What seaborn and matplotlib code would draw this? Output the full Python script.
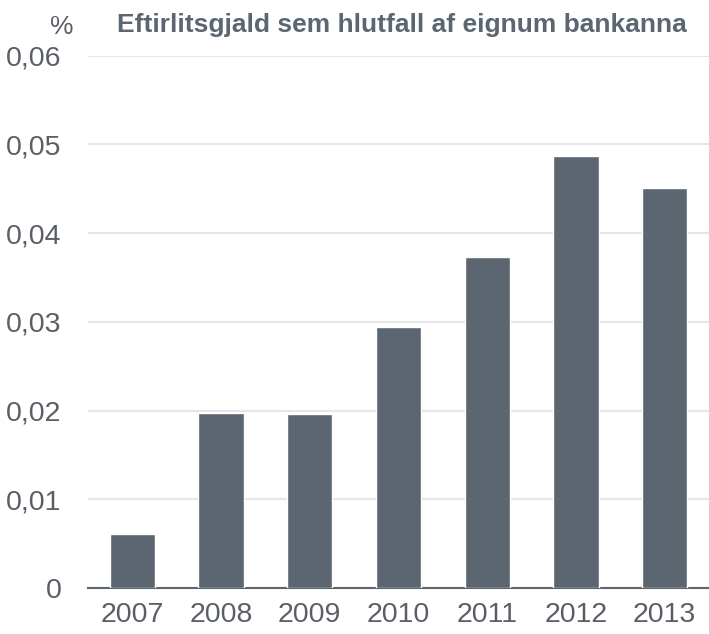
import matplotlib
matplotlib.use("Agg")
import matplotlib.pyplot as plt
import pandas as pd
import seaborn as sns
from matplotlib.ticker import FuncFormatter

# Data
years = ['2007', '2008', '2009', '2010', '2011', '2012', '2013']
values = [0.0061, 0.0197, 0.0196, 0.0294, 0.0373, 0.0487, 0.0451]
df = pd.DataFrame({'year': years, 'value': values})

sns.set_style("white")
plt.rcParams['font.family'] = ['Liberation Sans', 'DejaVu Sans']

bar_color = '#5b6670'
text_color = '#5a5f66'

fig = plt.figure(figsize=(7.09, 6.34), dpi=100)
ax = fig.add_axes([0.124, 0.0726, 0.876, 0.8394])

sns.barplot(data=df, x='year', y='value', color=bar_color, saturation=1,
            width=0.51, ax=ax, zorder=3)

ax.set_ylim(0, 0.06)
ax.set_yticks([0, 0.01, 0.02, 0.03, 0.04, 0.05, 0.06])
ax.yaxis.set_major_formatter(FuncFormatter(
    lambda v, p: '0' if v == 0 else f'{v:.2f}'.replace('.', ',')))
ax.grid(axis='y', color='#e6e6e6', linewidth=1.5, zorder=0)
ax.set_axisbelow(True)

for s in ['top', 'right', 'left']:
    ax.spines[s].set_visible(False)
ax.spines['bottom'].set_color(bar_color)
ax.spines['bottom'].set_linewidth(1.5)

ax.tick_params(axis='both', length=0, labelsize=20.5, colors=text_color)
ax.tick_params(axis='y', pad=19)
ax.tick_params(axis='x', pad=10)
ax.set_xlabel('')
ax.set_ylabel('')

fig.text(0.07, 0.957, '%', fontsize=19, color=text_color, va='center')
fig.text(0.165, 0.96, 'Eftirlitsgjald sem hlutfall af eignum bankanna',
         fontsize=19, fontweight='bold', color=bar_color, va='center')

fig.savefig('out.png', dpi=100)
